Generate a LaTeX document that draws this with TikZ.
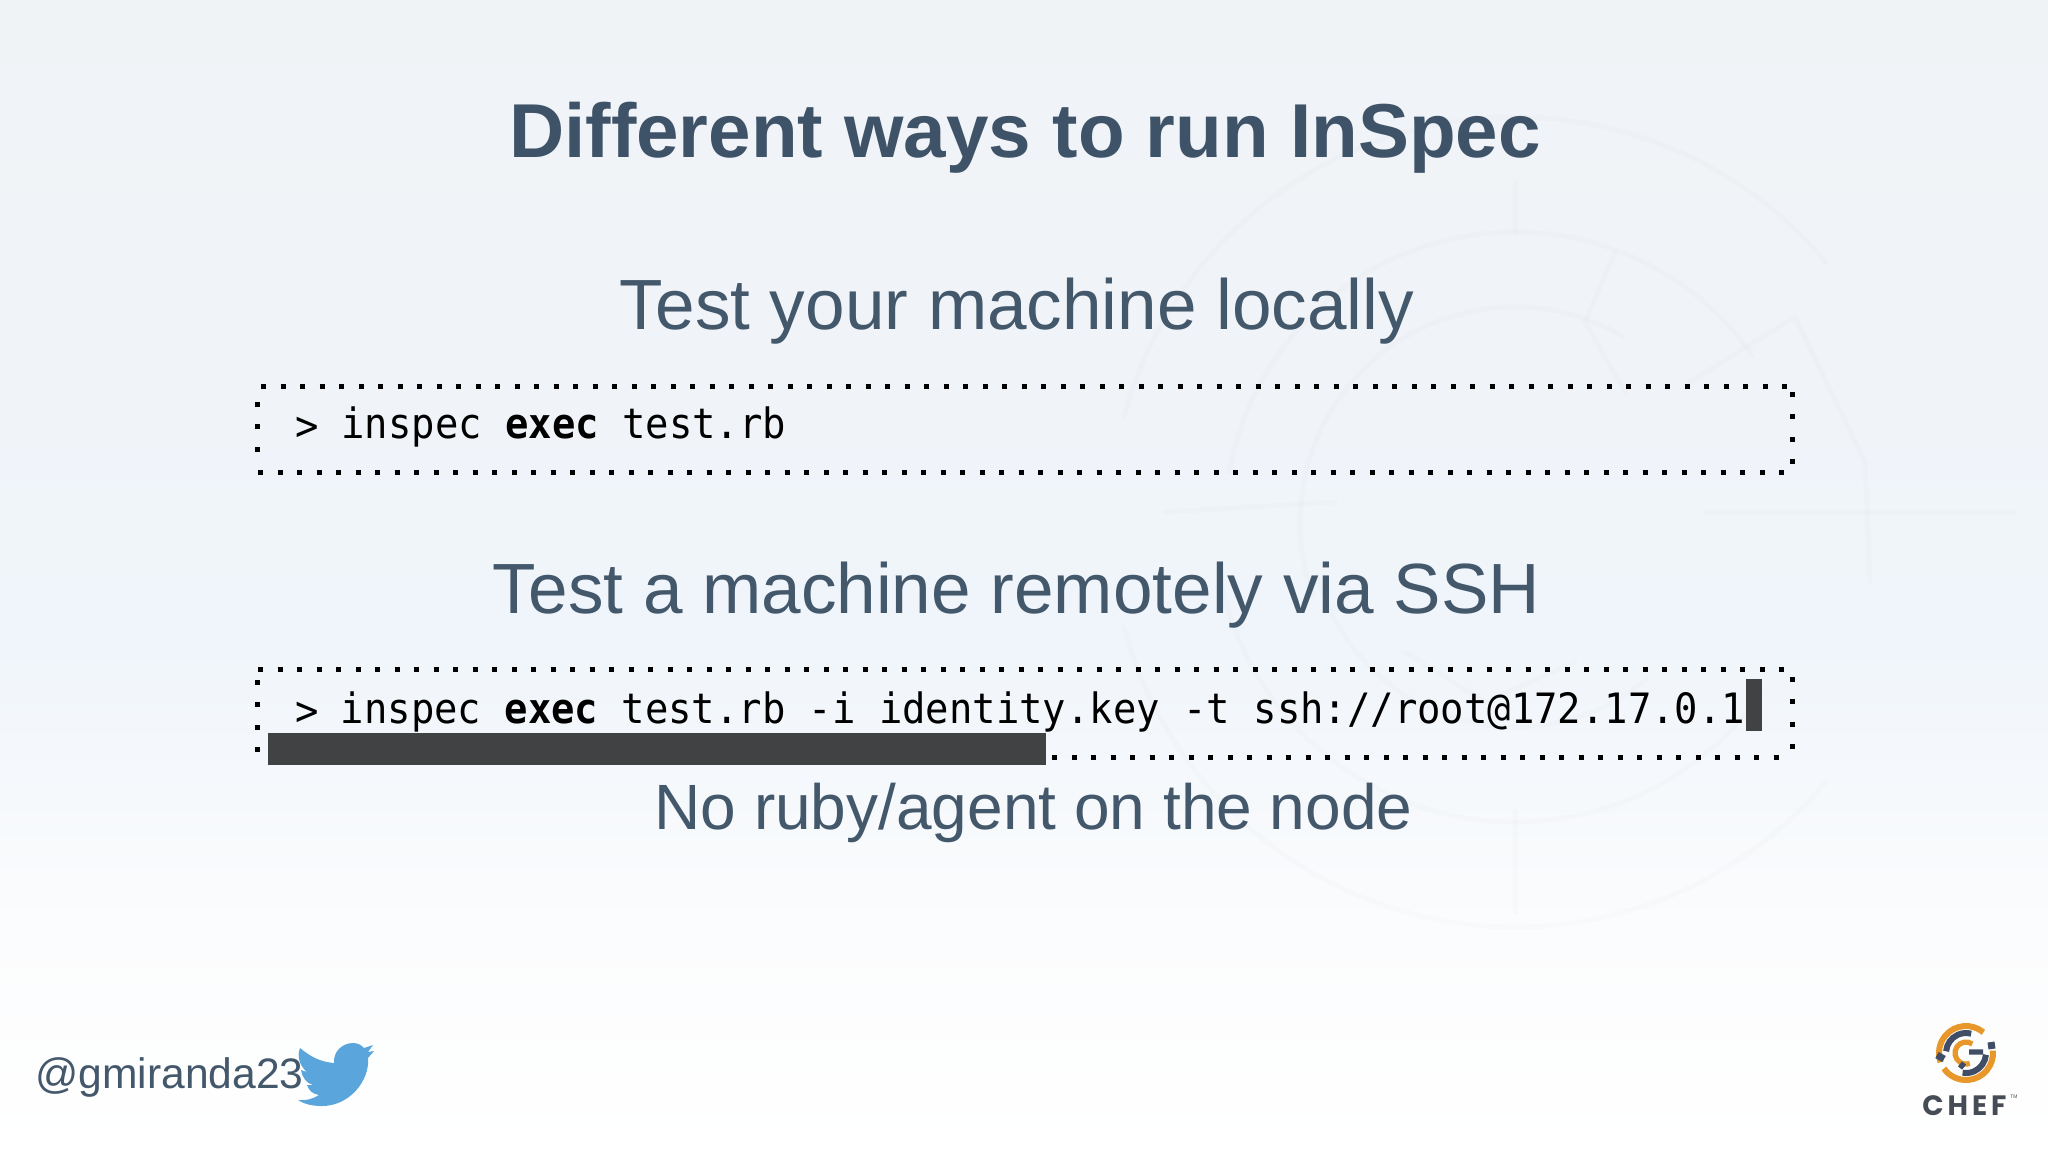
\documentclass[tikz,border=0pt]{standalone}
\usepackage{fontspec}
\setmainfont{Liberation Sans}
\newfontfamily\codefont[FakeStretch=0.93]{DejaVu Sans Mono}
\newfontfamily\cheffont[LetterSpace=14]{Poppins}
\definecolor{ink}{HTML}{44586C}
\definecolor{inktitle}{HTML}{3F5368}
\definecolor{bar}{HTML}{414244}
\definecolor{bird}{HTML}{5AA5DC}
\definecolor{cheforange}{HTML}{E8972A}
\definecolor{chefdark}{HTML}{3F4D66}
\definecolor{chefink}{HTML}{454C56}
\definecolor{bgA}{HTML}{F0F3F6}
\definecolor{bgB}{HTML}{F0F5FB}
\definecolor{bgC}{HTML}{FBFCFD}
\tikzset{
  title/.style={font=\fontsize{38.2}{42}\selectfont\bfseries, text=inktitle, anchor=base, inner sep=0pt},
  sub/.style={font=\fontsize{35.55}{40}\selectfont, text=ink, anchor=base, inner sep=0pt},
  code/.style={font=\fontsize{20.9}{24}\codefont, text=black, anchor=base west, inner sep=0pt},
  dotsH/.style={line width=2.5pt, black, dash pattern=on 2.5pt off 7.25pt},
  dotsV/.style={line width=2.5pt, black, dash pattern=on 2.5pt off 8.7pt},
  mark lines/.style={draw=black, draw opacity=0.012, line width=2.5pt, line cap=round},
}
\begin{document}
\begin{tikzpicture}[x=0.5pt,y=-0.5pt]
\useasboundingbox (0,0) rectangle (2048,1152);
% background
\shade[top color=bgA,bottom color=bgB,draw=none] (0,0) rectangle (2048,640);
\shade[top color=bgB,bottom color=bgC,draw=none] (0,640) rectangle (2048,930);
\shade[top color=bgC,bottom color=white,draw=none] (0,930) rectangle (2048,1152);
% watermark
\begin{scope}[shift={(1515,522)},mark lines]
  \draw (-40:405) arc[start angle=-40,end angle=-165,radius=405];
  \draw (165:405) arc[start angle=165,end angle=40,radius=405];
  \draw (-35:290) arc[start angle=-35,end angle=-170,radius=290];
  \draw (170:300) arc[start angle=170,end angle=35,radius=300];
  \draw (-60:215) arc[start angle=-60,end angle=-200,radius=215];
  \draw (165:205) arc[start angle=165,end angle=50,radius=205];
  \draw (0,-340) -- (0,-290);
  \draw (100,-270) -- (70,-200) -- (110,-130);
  \draw (175,-140) -- (280,-205) -- (350,-60) -- (355,60);
  \draw (0,290) -- (0,390);
  \draw (-350,-10) -- (-180,-20);
  \draw (190,-10) -- (500,-10);
  \draw (-110,130) -- (-30,180) -- (60,140);
\end{scope}
% title and labels
\node[title] (t) at (1025,157.5) {Different ways to run InSpec};
\node[sub] (s1) at (1017,329) {Test your machine locally};
\node[sub] (s2) at (1016.5,613) {Test a machine remotely via SSH};
\node[sub,font=\fontsize{32}{36}\selectfont] (s3) at (1033.5,829) {No ruby/agent on the node};
% box 1
\draw[dotsH] (261,386) -- (1792,386);
\draw[dotsH] (258,472.5) -- (1792,472.5);
\draw[dotsV] (257,402) -- (257,466);
\draw[dotsV] (1792,392) -- (1792,470);
\node[code] (c1p) at (295,440) {>};
\node[code] (c1) at (341,438.5) {inspec \textbf{exec} test.rb};
% box 2
\draw[dotsH] (258,669) -- (1792,669);
\draw[dotsH] (1052,757) -- (1792,757);
\draw[dotsV] (257,680) -- (257,760);
\draw[dotsV] (1792,677) -- (1792,757);
\fill[bar] (268,733) rectangle (1046,765);
\fill[bar] (1746,679) rectangle (1762,731);
\node[code] (c2p) at (295,725) {>};
\node[code] (c2) at (340.5,723.5) {inspec \textbf{exec} test.rb -i identity.key -t ssh://root@172.17.0.1};
% handle
\fill[bird] (300,1048) .. controls (312,1058) and (322,1062) .. (334,1063)
  .. controls (333,1052) and (342,1043) .. (353,1043)
  .. controls (358,1043) and (361,1045) .. (364,1048)
  -- (373,1045) -- (368,1052) -- (374,1051) -- (368,1058)
  .. controls (370,1080) and (350,1106) .. (322,1106)
  .. controls (312,1106) and (304,1104) .. (298,1100)
  .. controls (305,1101) and (313,1099) .. (319,1095)
  .. controls (313,1094) and (309,1091) .. (307,1085)
  -- (313,1085)
  .. controls (306,1083) and (302,1077) .. (301,1070)
  -- (307,1072)
  .. controls (299,1065) and (297,1056) .. (300,1048) -- cycle;
\node[font=\fontsize{21.3}{24}\selectfont,text=ink,anchor=base west,inner sep=0pt] (h) at (35,1088) {@gmiranda23};
% chef logo
\begin{scope}[shift={(1966,1053)},line cap=butt]
  \draw[cheforange,line width=3pt] (-50:27) arc[start angle=-50,end angle=-200,radius=27];
  \draw[cheforange,line width=3pt] (-5:27) arc[start angle=-5,end angle=145,radius=27];
  \draw[chefdark,line width=3pt] (-175:20) arc[start angle=-175,end angle=-75,radius=20];
  \draw[chefdark,line width=3pt] (5:20) arc[start angle=5,end angle=100,radius=20];
  \draw[chefdark,line width=3.5pt] (-29,2) -- (-22,6);
  \draw[chefdark,line width=3.5pt] (22,-7) -- (29,-8);
  \draw[cheforange,line width=2.6pt] (-55:11) arc[start angle=-55,end angle=-290,radius=11];
  \draw[chefdark,line width=2.6pt] (-6,15) -- (-2,10) (3,-1) -- (17,-1);
\end{scope}
\node[font=\fontsize{14}{16}\selectfont\cheffont\bfseries,text=chefink,anchor=base west,inner sep=0pt] (chef) at (1922,1115) {CHEF};
\node[font=\fontsize{2.5}{3}\selectfont,text=chefink,anchor=base west,inner sep=0pt] (tm) at (2010,1098) {TM};
\end{tikzpicture}
\end{document}
